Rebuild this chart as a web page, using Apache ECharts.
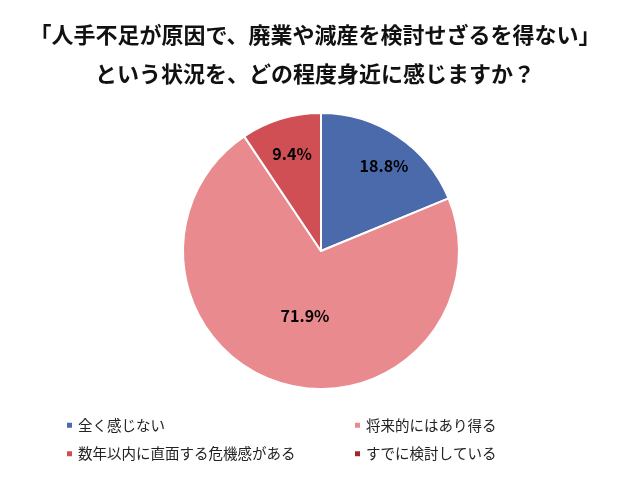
<!DOCTYPE html>
<html>
<head>
<meta charset="utf-8">
<script src="https://cdn.jsdelivr.net/npm/echarts@6/dist/echarts.min.js"></script>
<style>
html, body { margin: 0; padding: 0; background: #fff; }
#main { width: 630px; height: 480px; }
</style>
</head>
<body>
<div id="main"></div>
<script>
// 回答カテゴリと割合(%)
var categories = ['全く感じない', '将来的にはあり得る', '数年以内に直面する危機感がある', 'すでに検討している'];
var values = [18.8, 71.9, 9.4, 0];
var colors = ['#4a6aab', '#e98a8e', '#d04f55', '#a0282b'];
// ラベルの微調整(px)
var labelShift = [[23, -25], [5, -4], [-8, -28], [0, 0]];

var FONT = '"Noto Sans CJK JP", "Noto Sans", sans-serif';

var pieData = [];
for (var i = 0; i < categories.length; i++) {
	pieData.push({
		name: categories[i],
		value: values[i],
		itemStyle: { color: colors[i] },
		label: { show: values[i] > 0 }
	});
}

var legendBase = {
	orient: 'vertical',
	top: 418,
	padding: 0,
	icon: 'rect',
	itemWidth: 7,
	itemHeight: 7,
	itemGap: 14,
	textStyle: { fontFamily: FONT, fontSize: 14.5, color: '#222' }
};

var myChart = echarts.init(document.getElementById('main'));
var option = {
	animation: false,
	title: {
		text: '「人手不足が原因で、廃業や減産を検討せざるを得ない」\nという状況を、どの程度身近に感じますか？',
		left: 'center',
		top: 10,
		textStyle: {
			fontFamily: FONT,
			fontSize: 22,
			fontWeight: 'bold',
			color: '#111',
			lineHeight: 39
		}
	},
	legend: [
		Object.assign({}, legendBase, { data: [categories[0], categories[2]], left: 65 }),
		Object.assign({}, legendBase, { data: [categories[1], categories[3]], left: 353 })
	],
	series: [{
		type: 'pie',
		center: [321, 251],
		radius: [0, 138],
		startAngle: 90,
		clockwise: true,
		avoidLabelOverlap: false,
		itemStyle: { borderColor: '#fff', borderWidth: 2 },
		label: {
			position: 'inside',
			formatter: function (p) { return p.value.toFixed(1) + '%'; },
			fontFamily: FONT,
			fontSize: 16,
			fontWeight: 'bold',
			color: '#000'
		},
		labelLine: { show: false },
		labelLayout: function (p) {
			var s = labelShift[p.dataIndex];
			return { dx: s[0], dy: s[1] };
		},
		emphasis: { disabled: true },
		data: pieData
	}]
};
myChart.setOption(option);
</script>
</body>
</html>
